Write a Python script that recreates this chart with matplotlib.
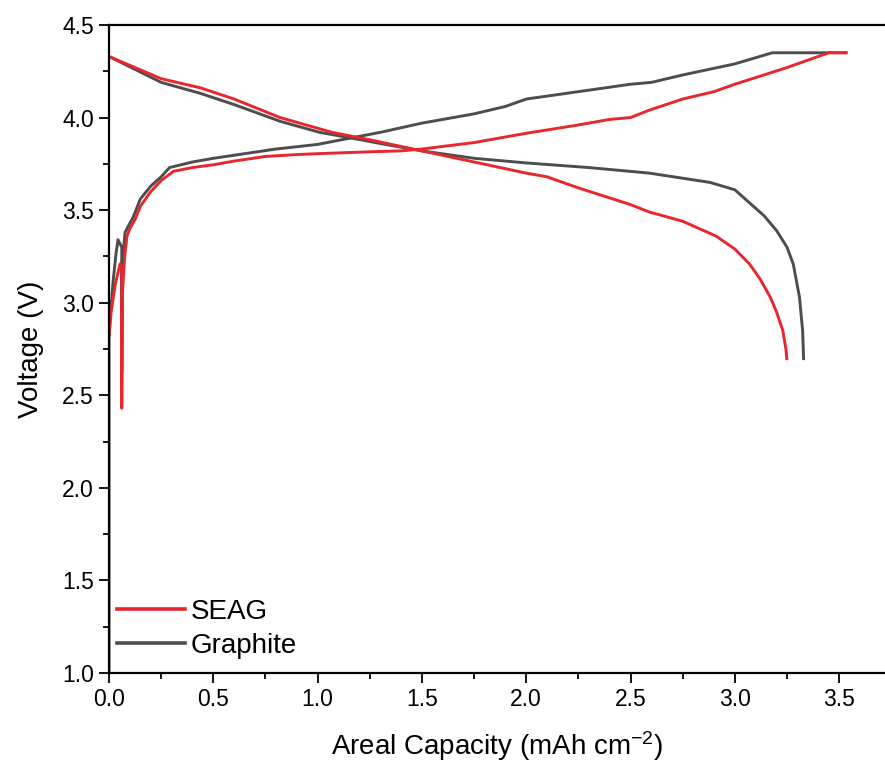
import numpy as np
import matplotlib
matplotlib.use("Agg")
import matplotlib.pyplot as plt
from matplotlib.ticker import MultipleLocator, FormatStrFormatter

plt.rcParams['font.family'] = ['Liberation Sans', 'DejaVu Sans']
plt.rcParams['mathtext.default'] = 'regular'

# Graphite charge
gr_chg_x = [0, 0, 0.005, 0.02, 0.034, 0.043, 0.061, 0.061, 0.062, 0.077, 0.1, 0.115, 0.15, 0.2, 0.25,
            0.29, 0.4, 0.5, 0.68, 0.8, 1.0, 1.16, 1.3, 1.5, 1.75, 1.9, 2.0, 2.25, 2.5, 2.6, 2.75, 3.0, 3.18, 3.54]
gr_chg_v = [1.0, 2.8, 2.91, 3.12, 3.27, 3.34, 3.30, 2.63, 3.2, 3.38, 3.43, 3.46, 3.56, 3.63, 3.68,
            3.73, 3.76, 3.78, 3.81, 3.83, 3.855, 3.89, 3.92, 3.97, 4.02, 4.06, 4.10, 4.14, 4.18, 4.19, 4.23, 4.29, 4.35, 4.35]
# Graphite discharge
gr_dis_x = [0.0, 0.25, 0.44, 0.6, 0.82, 1.01, 1.16, 1.3, 1.5, 1.75, 2.0, 2.3, 2.59, 2.88, 3.0, 3.07,
            3.14, 3.2, 3.25, 3.28, 3.31, 3.325, 3.33]
gr_dis_v = [4.33, 4.19, 4.13, 4.07, 3.98, 3.92, 3.89, 3.86, 3.82, 3.78, 3.755, 3.73, 3.70, 3.65, 3.61, 3.54,
            3.47, 3.39, 3.30, 3.21, 3.03, 2.85, 2.69]
# SEAG charge
se_chg_x = [0.0, 0.01, 0.03, 0.053, 0.061, 0.061, 0.064, 0.075, 0.086, 0.1, 0.125, 0.15, 0.2, 0.25, 0.31,
            0.4, 0.5, 0.6, 0.75, 0.9, 1.0, 1.25, 1.4, 1.5, 1.75, 2.0, 2.25, 2.4, 2.5, 2.59, 2.75, 2.9, 3.0, 3.25, 3.45, 3.54]
se_chg_v = [2.82, 2.95, 3.10, 3.21, 3.18, 2.43, 3.05, 3.25, 3.36, 3.40, 3.45, 3.52, 3.60, 3.66, 3.71,
            3.73, 3.745, 3.765, 3.79, 3.80, 3.805, 3.815, 3.82, 3.83, 3.865, 3.915, 3.96, 3.99, 4.00, 4.04, 4.10, 4.14, 4.18, 4.27, 4.35, 4.35]
# SEAG discharge
se_dis_x = [0.0, 0.25, 0.44, 0.6, 0.82, 1.07, 1.25, 1.5, 1.75, 2.0, 2.1, 2.25, 2.5, 2.59, 2.75, 2.91,
            3.0, 3.07, 3.12, 3.17, 3.2, 3.23, 3.245, 3.25]
se_dis_v = [4.33, 4.21, 4.16, 4.10, 4.00, 3.92, 3.88, 3.82, 3.76, 3.70, 3.68, 3.62, 3.53, 3.49, 3.44, 3.36,
            3.29, 3.21, 3.13, 3.03, 2.95, 2.85, 2.75, 2.69]

labels = ["SEAG", "Graphite"]
red = "#E8262E"
gray = "#4D4D4D"

fig = plt.figure(figsize=(8.85, 7.62), dpi=100)
ax = fig.add_axes([0.1232, 0.1168, 0.8768, 0.8504])

lw = 2.1
kw = dict(lw=lw, solid_joinstyle='round', solid_capstyle='butt')
ax.plot(gr_chg_x, gr_chg_v, color=gray, **kw)
ax.plot(gr_dis_x, gr_dis_v, color=gray, **kw)
ax.plot(se_chg_x, se_chg_v, color=red, **kw)
ax.plot(se_dis_x, se_dis_v, color=red, **kw)

h1, = ax.plot([], [], color=red, lw=2.6, label=labels[0])
h2, = ax.plot([], [], color=gray, lw=2.6, label=labels[1])

ax.set_xlim(0, 3.72)
ax.set_ylim(1.0, 4.5)
ax.xaxis.set_major_locator(MultipleLocator(0.5))
ax.xaxis.set_minor_locator(MultipleLocator(0.25))
ax.yaxis.set_major_locator(MultipleLocator(0.5))
ax.yaxis.set_minor_locator(MultipleLocator(0.25))
ax.xaxis.set_major_formatter(FormatStrFormatter('%.1f'))
ax.yaxis.set_major_formatter(FormatStrFormatter('%.1f'))
ax.tick_params(which='major', direction='out', length=7, width=1.3, labelsize=16.5, pad=4)
ax.tick_params(which='minor', direction='out', length=4, width=1.3)
ax.tick_params(axis='y', which='both', right=False)
ax.tick_params(axis='x', which='both', top=False)
for s in ['left', 'bottom', 'top']:
    ax.spines[s].set_linewidth(1.6)
ax.spines['right'].set_visible(False)

ax.set_xlabel("Areal Capacity (mAh cm$^{-2}$)", fontsize=20, labelpad=13)
ax.set_ylabel("Voltage (V)", fontsize=20, labelpad=13)

leg = ax.legend(handles=[h1, h2], loc='lower left', bbox_to_anchor=(-0.008, 0.0), frameon=False,
                fontsize=20, handlelength=2.45, handletextpad=0.2, labelspacing=0.3,
                borderaxespad=0.2, borderpad=0.3)

fig.savefig("out.png", dpi=100)
